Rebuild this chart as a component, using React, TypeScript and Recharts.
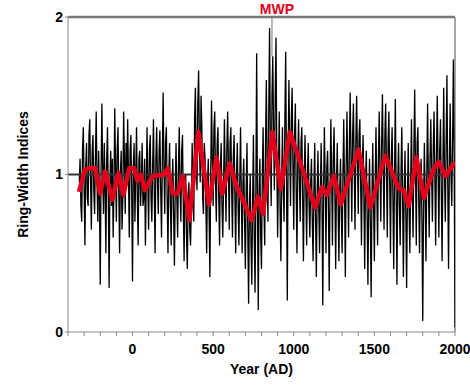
import { Line, LineChart, ReferenceLine, XAxis, YAxis } from "recharts";

// annual ring-width index, sampled every 5 years from 330 BC to AD 2000
const firstYear = -330;
const ringWidth = [
  0.95, 1.1, 0.8, 0.7, 1.15, 1.3, 0.9, 0.55, 1.05, 1.2, 0.85, 0.8, 1.25, 1.35, 0.95, 0.65, 1.15, 1.25, 0.9, 0.75,
  1.1, 1.4, 0.95, 0.7, 1.15, 0.85, 0.3, 1.0, 1.45, 1.05, 0.75, 1.2, 0.9, 0.5, 1.1, 1.3, 0.85, 0.28, 0.95, 1.15,
  0.8, 1.1, 0.6, 0.9, 1.42, 1.05, 0.7, 1.15, 1.3, 0.9, 0.5, 1.0, 1.15, 0.65, 0.85, 1.4, 1.1, 0.75, 1.2, 0.95,
  1.35, 1.0, 0.6, 1.15, 1.25, 0.9, 0.32, 1.05, 1.2, 0.7, 1.0, 1.3, 0.85, 0.55, 1.1, 1.15, 0.8, 0.95, 1.2, 0.8,
  0.85, 1.1, 0.55, 0.9, 1.3, 0.95, 0.65, 1.15, 1.25, 0.85, 0.7, 1.05, 1.35, 0.9, 0.5, 1.1, 1.3, 0.95, 0.75, 1.15,
  1.28, 0.9, 0.6, 1.1, 1.52, 1.05, 0.75, 1.2, 1.3, 0.85, 0.5, 1.0, 1.2, 0.8, 0.55, 0.95, 1.1, 0.75, 0.42, 0.9,
  1.2, 0.85, 0.6, 1.05, 1.3, 0.9, 0.7, 1.15, 1.25, 0.8, 0.45, 0.95, 1.0, 0.6, 0.4, 0.85, 0.95, 0.65, 0.55, 0.8,
  1.2, 0.9, 0.7, 1.35, 1.55, 1.1, 0.9, 1.45, 1.66, 1.2, 0.95, 1.5, 1.3, 0.85, 0.75, 1.2, 1.1, 0.8, 0.5, 0.95,
  1.1, 0.75, 0.35, 1.0, 1.47, 1.1, 0.8, 1.3, 1.4, 0.95, 0.7, 1.2, 1.3, 0.85, 0.55, 1.05, 1.2, 0.8, 0.6, 0.95,
  1.35, 1.0, 0.7, 1.15, 1.4, 1.05, 0.65, 1.2, 1.3, 0.9, 0.6, 1.1, 1.25, 0.85, 0.5, 1.0, 1.2, 0.8, 0.55, 0.95,
  1.3, 0.85, 0.5, 0.95, 1.1, 0.7, 0.4, 0.9, 1.2, 0.65, 0.18, 0.8, 1.0, 0.55, 0.3, 0.85, 1.25, 0.6, 0.25, 0.9,
  1.77, 0.8, 0.14, 0.9, 1.1, 0.6, 0.4, 1.0, 1.3, 0.8, 0.55, 1.2, 1.6, 1.05, 0.7, 1.4, 1.93, 1.2, 0.8, 1.5,
  1.75, 1.25, 0.9, 1.5, 1.87, 1.1, 0.6, 1.0, 1.4, 0.8, 0.45, 0.95, 1.3, 0.9, 0.7, 1.35, 1.78, 1.0, 0.2, 1.1,
  1.6, 1.2, 0.8, 1.35, 1.55, 1.05, 0.65, 1.25, 1.45, 0.9, 0.5, 1.1, 1.35, 0.95, 0.7, 1.2, 1.3, 0.85, 0.45, 1.0,
  1.25, 0.9, 0.55, 1.0, 1.2, 0.8, 0.6, 0.95, 1.1, 0.7, 0.45, 0.9, 1.2, 0.75, 0.35, 0.85, 1.15, 0.8, 0.5, 0.9,
  1.2, 0.85, 0.17, 0.9, 1.3, 0.95, 0.5, 1.05, 1.15, 0.8, 0.26, 0.9, 1.35, 1.0, 0.55, 1.1, 1.3, 0.9, 0.4, 0.95,
  1.2, 0.8, 0.45, 0.9, 1.1, 0.75, 0.5, 1.0, 1.35, 0.9, 0.35, 1.05, 1.4, 1.0, 0.6, 1.2, 1.52, 1.1, 0.7, 1.25,
  1.45, 1.05, 0.65, 1.2, 1.5, 1.1, 0.75, 1.25, 1.35, 0.95, 0.55, 1.05, 1.25, 0.85, 0.4, 0.95, 1.15, 0.75, 0.3, 0.85,
  1.1, 0.7, 0.22, 0.85, 1.2, 0.8, 0.45, 0.95, 1.3, 0.9, 0.55, 1.1, 1.4, 1.0, 0.7, 1.2, 1.51, 1.05, 0.65, 1.25,
  1.45, 1.05, 0.6, 1.2, 1.4, 0.95, 0.5, 1.1, 1.3, 0.85, 0.4, 1.0, 1.48, 0.9, 0.3, 0.95, 1.2, 0.8, 0.55, 1.0,
  1.3, 0.85, 0.35, 0.9, 1.15, 0.75, 0.28, 0.85, 1.2, 0.8, 0.5, 0.95, 1.35, 0.9, 0.6, 1.15, 1.54, 1.05, 0.55, 1.2,
  1.3, 0.85, 0.5, 0.95, 1.1, 0.7, 0.07, 0.8, 1.2, 0.85, 0.45, 1.0, 1.45, 0.95, 0.6, 1.1, 1.35, 1.0, 0.7, 1.15,
  1.4, 1.0, 0.55, 1.1, 1.5, 1.05, 0.6, 1.15, 1.35, 0.9, 0.45, 1.05, 1.55, 1.0, 0.7, 1.2, 1.63, 0.95, 0.4, 1.05,
  1.45, 1.0, 0.8, 1.2, 1.73, 1.1, 0.03,
];

// smoothed curve
const smoothYears = [
  -332, -295, -270, -232, -201, -170, -125, -87, -56, -21, 11, 31, 52, 77,
  125, 197, 218, 249, 280, 312, 353, 409, 474, 521, 557, 603, 644, 696, 738,
  779, 810, 868, 920, 976, 1049, 1132, 1174, 1205, 1250, 1292, 1402, 1475,
  1568, 1651, 1682, 1713, 1761, 1807, 1869, 1900, 1942, 2000,
];
const smoothValues = [
  0.89, 1.03, 1.04, 1.04, 0.88, 1.02, 0.84, 1.01, 0.87, 1.04, 1.04, 0.96,
  1.0, 0.9, 0.99, 1.0, 1.04, 0.88, 0.88, 0.99, 0.71, 1.27, 0.81, 1.11, 0.88,
  1.07, 0.93, 0.81, 0.71, 0.86, 0.75, 1.27, 0.91, 1.27, 1.05, 0.79, 0.92,
  0.87, 0.99, 0.81, 1.16, 0.79, 1.12, 0.91, 0.9, 0.8, 1.11, 0.85, 1.04, 1.08,
  0.99, 1.08,
];

const xTicks = [
  -400, -300, -200, -100, 0, 100, 200, 300, 400, 500, 600, 700, 800, 900,
  1000, 1100, 1200, 1300, 1400, 1500, 1600, 1700, 1800, 1900, 2000,
];
const xLabels = [0, 500, 1000, 1500, 2000];
const yTicks = [0, 1, 2];
const mwpYear = 865;

const annual = ringWidth.map((v, i) => ({ year: firstYear + i * 5, v }));
const smooth = smoothYears.map((year, i) => ({ year, v: smoothValues[i] }));

const font = "'Liberation Sans', Arial, sans-serif";

export default function App() {
  return (
    <div style={{ position: "absolute", left: 0, top: 0, background: "#fff" }}>
      <LineChart
        width={470}
        height={385}
        margin={{ top: 17, right: 15, bottom: 0, left: 0 }}
      >
        <XAxis
          type="number"
          dataKey="year"
          domain={[-400, 2000]}
          ticks={xTicks}
          interval={0}
          allowDataOverflow
          height={53}
          stroke="#888"
          tickSize={4}
          tickFormatter={(t) => (xLabels.includes(t) ? String(t) : "")}
          tick={{ fill: "#000", fontSize: 14, fontWeight: "bold", fontFamily: font, dy: 6 }}
          label={{
            value: "Year (AD)",
            position: "insideBottom",
            offset: 11,
            fill: "#000",
            fontSize: 14,
            fontWeight: "bold",
            fontFamily: font,
          }}
        />
        <YAxis
          type="number"
          domain={[0, 2]}
          ticks={yTicks}
          width={68}
          stroke="#888"
          tickSize={3}
          tick={{ fill: "#000", fontSize: 14, fontWeight: "bold", fontFamily: font }}
          label={{
            value: "Ring-Width Indices",
            angle: -90,
            position: "insideLeft",
            offset: 23,
            style: { textAnchor: "middle" },
            fill: "#000",
            fontSize: 14,
            fontWeight: "bold",
            fontFamily: font,
          }}
        />
        <ReferenceLine y={2} stroke="#777" strokeWidth={2.5} />
        <ReferenceLine x={2000} stroke="#888" strokeWidth={1.5} />
        <ReferenceLine
          segment={[
            { x: mwpYear, y: 2 },
            { x: mwpYear, y: 1.75 },
          ]}
          stroke="#777"
          strokeWidth={1}
          label={{
            value: "MWP",
            position: "top",
            offset: 3,
            dx: 5,
            fill: "#e2001a",
            fontSize: 14,
            fontWeight: "bold",
            fontFamily: font,
          }}
        />
        <Line
          data={annual}
          dataKey="v"
          type="linear"
          stroke="#000"
          strokeWidth={1.3}
          dot={false}
          isAnimationActive={false}
        />
        <ReferenceLine y={1} stroke="#333" strokeWidth={2} />
        <Line
          data={smooth}
          dataKey="v"
          type="linear"
          stroke="#e3001b"
          strokeWidth={4.5}
          strokeLinejoin="round"
          dot={false}
          isAnimationActive={false}
        />
      </LineChart>
    </div>
  );
}
